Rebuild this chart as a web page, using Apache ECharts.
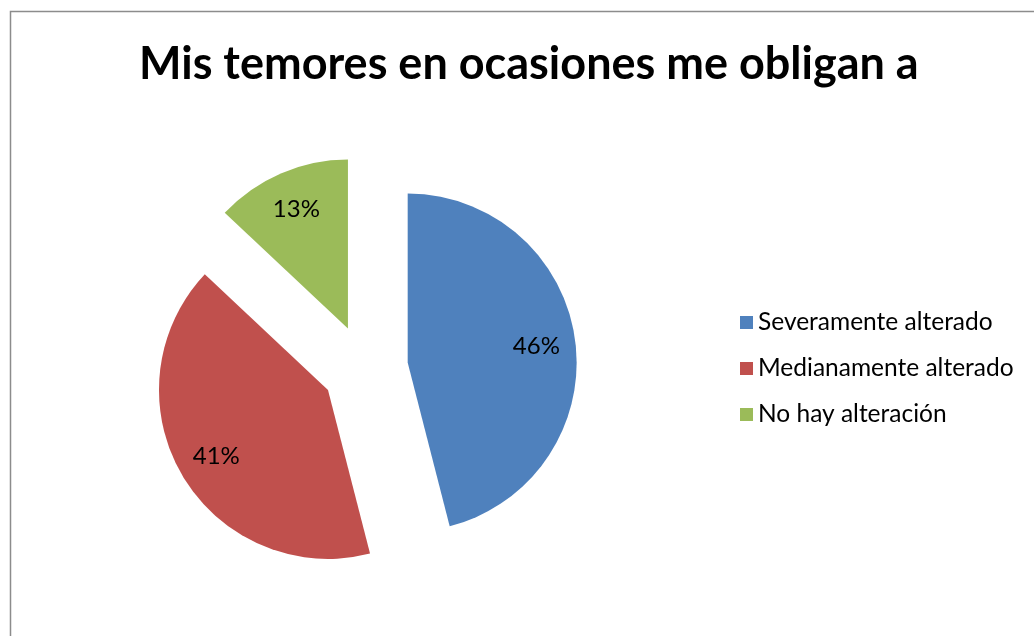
<!DOCTYPE html>
<html>
<head>
<meta charset="utf-8">
<script src="https://cdn.jsdelivr.net/npm/echarts@6/dist/echarts.min.js"></script>
<style>
  html, body { margin: 0; padding: 0; background: #fff; }
  #chart { width: 1034px; height: 636px; }
</style>
</head>
<body>
<div id="chart"></div>
<script>
  var titleText = 'Mis temores en ocasiones me obligan a';
  var categories = ['Severamente alterado', 'Medianamente alterado', 'No hay alteración'];
  var values = [46, 41, 13];
  var colors = ['#4F81BD', '#C0504D', '#9BBB59'];

  var chart = echarts.init(document.getElementById('chart'));
  var radius = 169;
  var total = values.reduce(function (a, b) { return a + b; }, 0);

  // labels sit further out than the default 'inside' spot (mid radius)
  var acc = 0;
  var labelShift = values.map(function (v) {
    var mid = (acc + v / 2) / total * Math.PI * 2;
    acc += v;
    var k = radius * 0.25;
    return [Math.sin(mid) * k, -Math.cos(mid) * k];
  });

  var pieData = values.map(function (v, i) {
    return {
      name: categories[i],
      value: v,
      selected: true,
      itemStyle: { color: colors[i] }
    };
  });

  var option = {
    animation: false,
    title: {
      text: titleText,
      left: 134,
      top: 37,
      textStyle: {
        fontFamily: 'Lato',
        fontWeight: 'bold',
        fontSize: 45,
        color: '#000'
      }
    },
    graphic: [{
      type: 'rect',
      shape: { x: 10.5, y: 11.5, width: 1100, height: 700 },
      style: { fill: 'none', stroke: '#8c8c8c', lineWidth: 1.5 },
      silent: true
    }],
    legend: {
      orient: 'vertical',
      left: 735,
      top: 305,
      icon: 'rect',
      itemWidth: 13,
      itemHeight: 13,
      itemGap: 21,
      selectedMode: false,
      textStyle: { fontFamily: 'Lato', fontSize: 24.5, color: '#000' },
      data: categories
    },
    series: [{
      type: 'pie',
      center: [365, 368],
      radius: radius,
      startAngle: 90,
      clockwise: true,
      selectedMode: 'multiple',
      selectedOffset: 43,
      label: {
        show: true,
        position: 'inside',
        formatter: '{c}%',
        fontFamily: 'Lato',
        fontSize: 24,
        color: '#000'
      },
      labelLayout: function (params) {
        var s = labelShift[params.dataIndex];
        return { dx: s[0], dy: s[1] };
      },
      labelLine: { show: false },
      emphasis: { disabled: true },
      data: pieData
    }]
  };
  chart.setOption(option);
</script>
</body>
</html>
